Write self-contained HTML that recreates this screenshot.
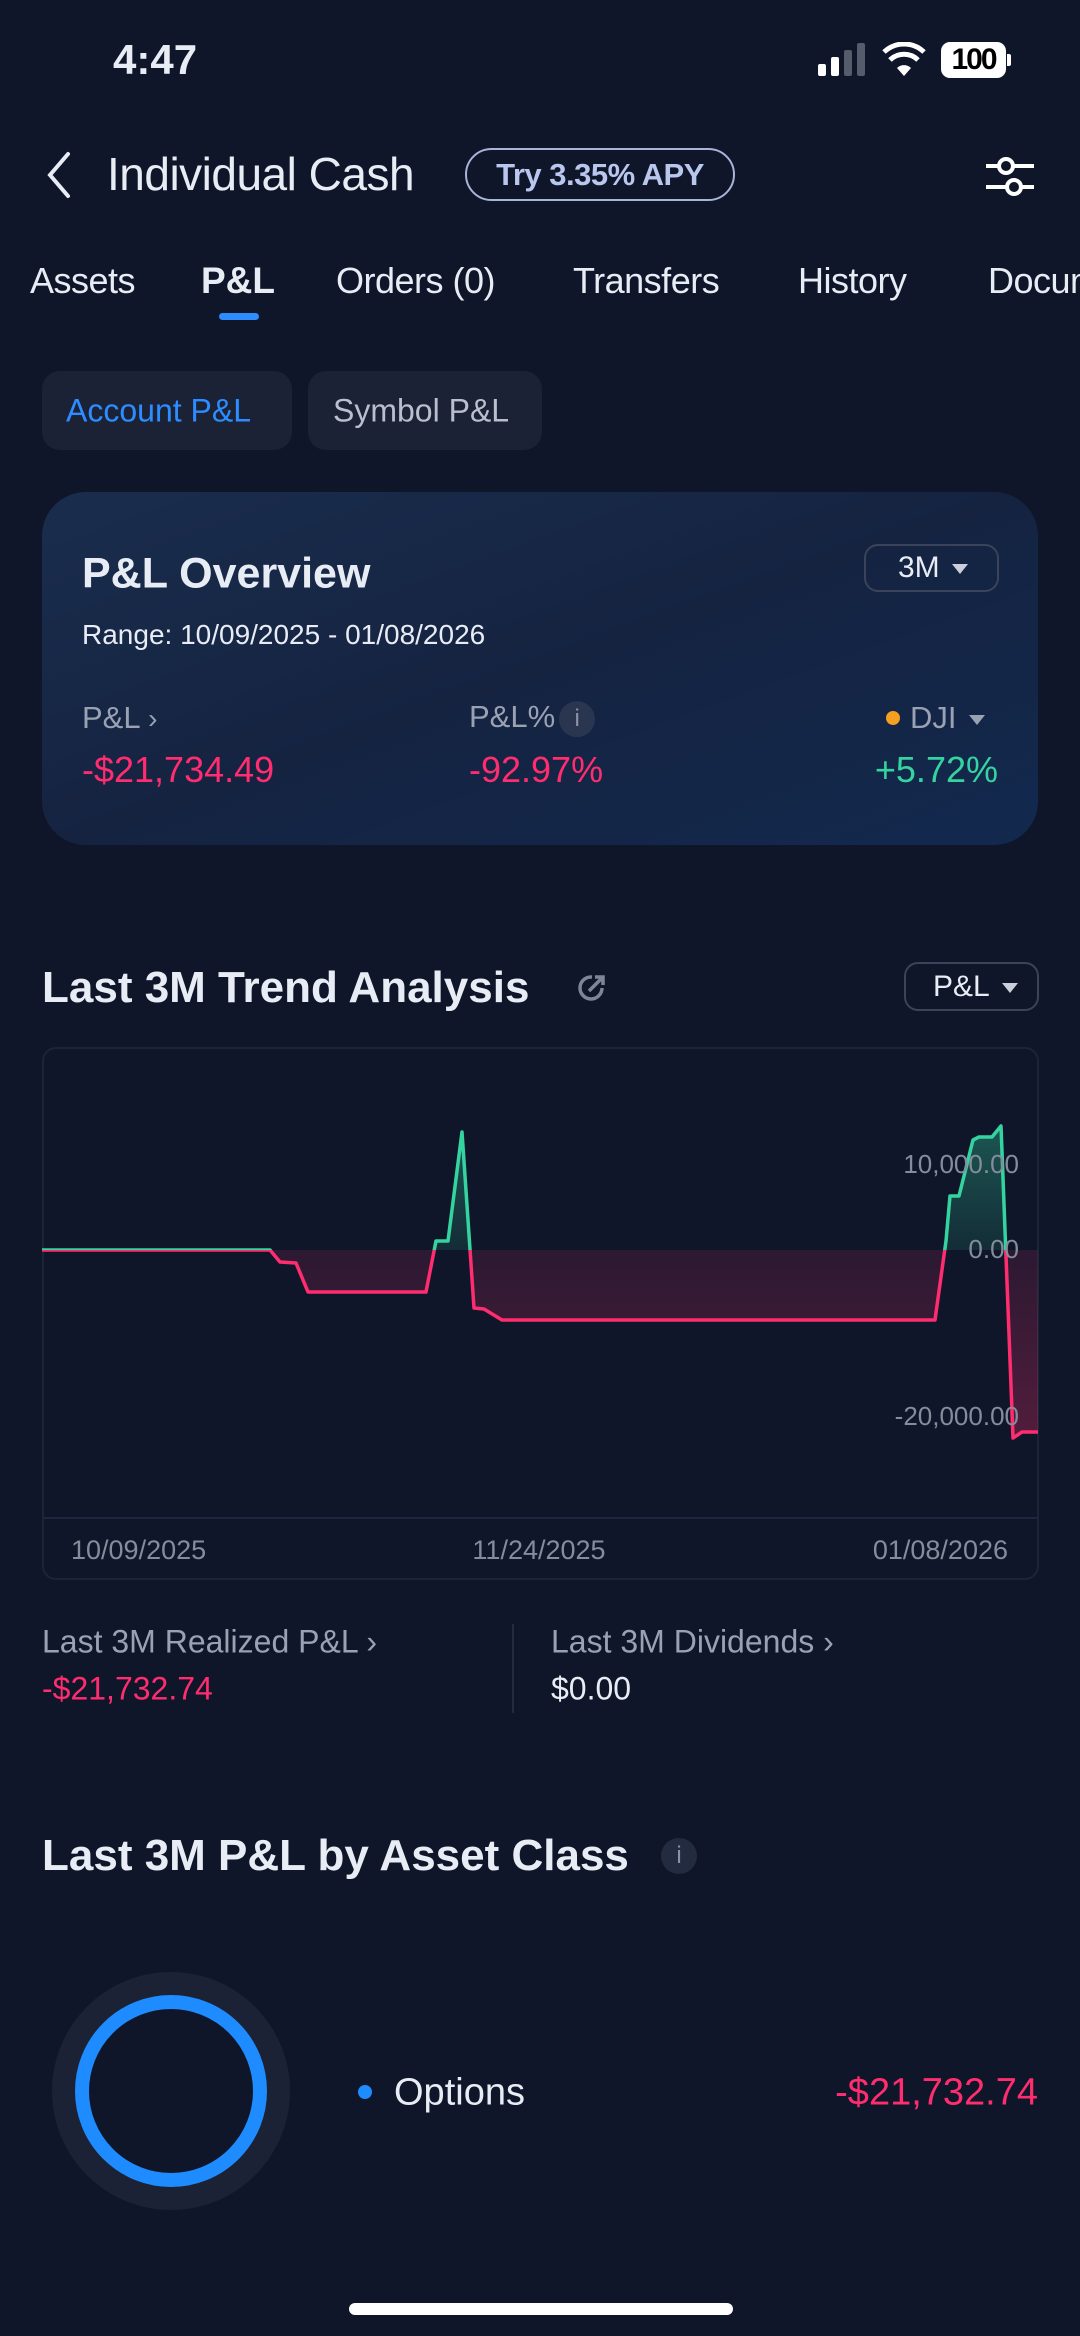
<!DOCTYPE html>
<html><head><meta charset="utf-8">
<style>
*{margin:0;padding:0;box-sizing:border-box}
html,body{width:1080px;height:2336px;background:#0f1629;overflow:hidden}
body{position:relative;font-family:"Liberation Sans",sans-serif;color:#e8ecf4}
.a{position:absolute;white-space:nowrap}
.mid{transform:translateY(-50%)}
.pink{color:#ff2d6f}
.green{color:#35d3a0}
.gray{color:#9aa1b2}
.btn{position:absolute;background:#1b2235;border-radius:18px}
.dd{position:absolute;border:2px solid #3a4359;border-radius:14px}
.tri{display:inline-block;width:0;height:0;border-left:8px solid transparent;border-right:8px solid transparent;border-top:10px solid #c9cfdb;vertical-align:middle;margin-left:12px}
</style></head><body>

<div class="a mid" style="left:113px;top:60px;font-size:42px;font-weight:bold">4:47</div>
<div class="a" style="left:818px;top:64px;width:8px;height:12px;background:#fff;border-radius:2px"></div>
<div class="a" style="left:831px;top:57px;width:8px;height:19px;background:#fff;border-radius:2px"></div>
<div class="a" style="left:844px;top:50px;width:8px;height:26px;background:#555c6c;border-radius:2px"></div>
<div class="a" style="left:857px;top:43px;width:8px;height:33px;background:#555c6c;border-radius:2px"></div>
<svg class="a" style="left:882px;top:42px" width="44" height="36" viewBox="0 0 44 36"><path d="M22 34 L15 26 A10 10 0 0 1 29 26 Z" fill="#fff"/><path d="M8 18 A20 20 0 0 1 36 18" stroke="#fff" stroke-width="5" fill="none"/><path d="M2 10 A29 29 0 0 1 42 10" stroke="#fff" stroke-width="5" fill="none"/></svg>
<div class="a" style="left:941px;top:42px;width:65px;height:36px;background:#fff;border-radius:9px;color:#000;font-size:30px;font-weight:bold;text-align:center;line-height:36px;letter-spacing:-2px">100</div>
<div class="a" style="left:1007px;top:54px;width:4px;height:12px;background:#fff;border-radius:0 2px 2px 0"></div>

<svg class="a" style="left:42px;top:150px" width="32" height="50"><path d="M26 4 L8 25 L26 46" stroke="#e8ecf4" stroke-width="4" fill="none" stroke-linecap="round"/></svg>
<div class="a mid" style="left:107px;top:174px;font-size:46px;letter-spacing:-0.5px">Individual Cash</div>
<div class="a" style="left:465px;top:148px;width:270px;height:53px;border:2px solid #a8b4d8;border-radius:27px;color:#b9c6ee;font-size:31px;font-weight:bold;text-align:center;line-height:49px;letter-spacing:-0.5px">Try 3.35% APY</div>
<svg class="a" style="left:984px;top:150px" width="52" height="50"><line x1="2" y1="16" x2="50" y2="16" stroke="#fff" stroke-width="4"/><circle cx="22" cy="16" r="7" fill="#0f1629" stroke="#fff" stroke-width="4"/><line x1="2" y1="37" x2="50" y2="37" stroke="#fff" stroke-width="4"/><circle cx="30" cy="37" r="7" fill="#0f1629" stroke="#fff" stroke-width="4"/></svg>

<div class="a mid" style="left:30px;top:281px;font-size:36px;letter-spacing:-0.5px">Assets</div>
<div class="a mid" style="left:201px;top:281px;font-size:37px;font-weight:bold">P&amp;L</div>
<div class="a" style="left:219px;top:313px;width:40px;height:7px;background:#2d8cff;border-radius:4px"></div>
<div class="a mid" style="left:336px;top:281px;font-size:36px;letter-spacing:-0.5px">Orders (0)</div>
<div class="a mid" style="left:573px;top:281px;font-size:36px;letter-spacing:-0.5px">Transfers</div>
<div class="a mid" style="left:798px;top:281px;font-size:36px;letter-spacing:-0.5px">History</div>
<div class="a mid" style="left:988px;top:281px;width:92px;overflow:hidden;font-size:36px;letter-spacing:-0.5px">Documents</div>

<div class="btn" style="left:42px;top:371px;width:250px;height:79px"></div>
<div class="a mid" style="left:66px;top:411px;font-size:32px;color:#2d8cff">Account P&amp;L</div>
<div class="btn" style="left:308px;top:371px;width:234px;height:79px"></div>
<div class="a mid" style="left:333px;top:411px;font-size:32px;color:#b9bfcc">Symbol P&amp;L</div>

<div class="a" style="left:42px;top:492px;width:996px;height:353px;border-radius:44px;background:linear-gradient(160deg,#1a2d4d 0%,#152341 50%,#12294e 100%)"></div>
<div class="a mid" style="left:82px;top:574px;font-size:43px;font-weight:bold">P&amp;L Overview</div>
<div class="dd" style="left:864px;top:544px;width:135px;height:48px"></div>
<div class="a mid" style="left:898px;top:568px;font-size:30px">3M<span class="tri"></span></div>
<div class="a mid" style="left:82px;top:635px;font-size:28px">Range: 10/09/2025 - 01/08/2026</div>
<div class="a mid gray" style="left:82px;top:718px;font-size:31px">P&amp;L <span style="font-size:28px">&#x203A;</span></div>
<div class="a mid gray" style="left:469px;top:718px;font-size:31px">P&amp;L%<span style="display:inline-block;width:36px;height:36px;border-radius:50%;background:#2a3550;color:#8a93a8;font-size:24px;text-align:center;line-height:36px;vertical-align:middle;margin-left:4px">i</span></div>
<div class="a" style="left:886px;top:711px;width:14px;height:14px;border-radius:50%;background:#f5a020"></div>
<div class="a mid gray" style="left:910px;top:718px;font-size:31px">DJI<span class="tri" style="border-top-color:#9aa1b2"></span></div>
<div class="a mid pink" style="left:82px;top:770px;font-size:36px">-$21,734.49</div>
<div class="a mid pink" style="left:469px;top:770px;font-size:36px">-92.97%</div>
<div class="a mid green" style="right:82px;top:770px;font-size:36px">+5.72%</div>

<div class="a mid" style="left:42px;top:988px;font-size:44px;font-weight:bold">Last 3M Trend Analysis</div>
<svg class="a" style="left:576px;top:972px" width="32" height="32"><path d="M26 16 A11 11 0 1 1 16 5" stroke="#7d8597" stroke-width="3.5" fill="none"/><path d="M13 19 L27 5 M19 5 H27 V13" stroke="#7d8597" stroke-width="3.5" fill="none"/></svg>
<div class="dd" style="left:904px;top:962px;width:135px;height:49px"></div>
<div class="a mid" style="left:933px;top:987px;font-size:30px">P&amp;L<span class="tri"></span></div>

<div class="a" style="left:42px;top:1047px;width:997px;height:533px;border:2px solid #1c2438;border-radius:14px"></div>
<svg class="a" style="left:0;top:0" width="1080" height="1600">
<defs>
<clipPath id="up"><rect x="0" y="0" width="1080" height="1250"/></clipPath>
<clipPath id="dn"><rect x="0" y="1250" width="1080" height="400"/></clipPath>
<linearGradient id="gg" x1="0" y1="1120" x2="0" y2="1250" gradientUnits="userSpaceOnUse"><stop offset="0" stop-color="#35d3a0" stop-opacity="0.35"/><stop offset="1" stop-color="#35d3a0" stop-opacity="0.12"/></linearGradient>
<linearGradient id="pg" x1="0" y1="1250" x2="0" y2="1440" gradientUnits="userSpaceOnUse"><stop offset="0" stop-color="#ff2d6f" stop-opacity="0.12"/><stop offset="1" stop-color="#ff2d6f" stop-opacity="0.28"/></linearGradient>
</defs>
<line x1="43" y1="1518" x2="1038" y2="1518" stroke="#1f2740" stroke-width="2"/>
<path d="M42 1250 L270 1250 L280 1262 L296 1263 L308 1292 L426 1292 L436 1241 L448 1241 L462 1132 L474 1308 L484 1309 L502 1320 L935 1320 L946 1241 L950 1196 L959 1196 L973 1140 L979 1137 L992 1137 L1001 1126 L1013 1438 L1022 1432 L1038 1432 L1038 1250 Z" fill="url(#gg)" clip-path="url(#up)"/>
<path d="M42 1250 L270 1250 L280 1262 L296 1263 L308 1292 L426 1292 L436 1241 L448 1241 L462 1132 L474 1308 L484 1309 L502 1320 L935 1320 L946 1241 L950 1196 L959 1196 L973 1140 L979 1137 L992 1137 L1001 1126 L1013 1438 L1022 1432 L1038 1432 L1038 1250 Z" fill="url(#pg)" clip-path="url(#dn)"/>
<path d="M42 1250 L270 1250 L280 1262 L296 1263 L308 1292 L426 1292 L436 1241 L448 1241 L462 1132 L474 1308 L484 1309 L502 1320 L935 1320 L946 1241 L950 1196 L959 1196 L973 1140 L979 1137 L992 1137 L1001 1126 L1013 1438 L1022 1432 L1038 1432" fill="none" stroke="#35d3a0" stroke-width="3.5" stroke-linejoin="round" clip-path="url(#up)"/>
<path d="M42 1250 L270 1250 L280 1262 L296 1263 L308 1292 L426 1292 L436 1241 L448 1241 L462 1132 L474 1308 L484 1309 L502 1320 L935 1320 L946 1241 L950 1196 L959 1196 L973 1140 L979 1137 L992 1137 L1001 1126 L1013 1438 L1022 1432 L1038 1432" fill="none" stroke="#ff2d6f" stroke-width="3.5" stroke-linejoin="round" clip-path="url(#dn)"/>
<g font-family="Liberation Sans,sans-serif" font-size="26" fill="#858c9c" text-anchor="end">
<text x="1019" y="1173">10,000.00</text>
<text x="1019" y="1258">0.00</text>
<text x="1019" y="1425">-20,000.00</text>
</g>
<g font-family="Liberation Sans,sans-serif" font-size="27" fill="#858c9c">
<text x="71" y="1559">10/09/2025</text>
<text x="539" y="1559" text-anchor="middle">11/24/2025</text>
<text x="1008" y="1559" text-anchor="end">01/08/2026</text>
</g>
</svg>

<div class="a mid gray" style="left:42px;top:1642px;font-size:32px">Last 3M Realized P&amp;L <span>&#x203A;</span></div>
<div class="a mid pink" style="left:42px;top:1689px;font-size:32px">-$21,732.74</div>
<div class="a" style="left:512px;top:1624px;width:2px;height:89px;background:#232b40"></div>
<div class="a mid gray" style="left:551px;top:1642px;font-size:32px">Last 3M Dividends <span>&#x203A;</span></div>
<div class="a mid" style="left:551px;top:1689px;font-size:32px">$0.00</div>

<div class="a mid" style="left:42px;top:1856px;font-size:44px;font-weight:bold">Last 3M P&amp;L by Asset Class</div>
<div class="a" style="left:661px;top:1838px;width:36px;height:36px;border-radius:50%;background:#222b40;color:#8a93a8;font-size:24px;text-align:center;line-height:36px">i</div>

<div class="a" style="left:52px;top:1972px;width:238px;height:238px;border-radius:50%;background:#1b2236"></div>
<div class="a" style="left:75px;top:1995px;width:192px;height:192px;border-radius:50%;border:14px solid #1e8cff;background:#0f1629"></div>
<div class="a" style="left:358px;top:2085px;width:14px;height:14px;border-radius:50%;background:#1e8cff"></div>
<div class="a mid" style="left:394px;top:2093px;font-size:38px">Options</div>
<div class="a mid pink" style="right:42px;top:2093px;font-size:38px">-$21,732.74</div>

<div class="a" style="left:349px;top:2303px;width:384px;height:12px;border-radius:6px;background:#fff"></div>
</body></html>
